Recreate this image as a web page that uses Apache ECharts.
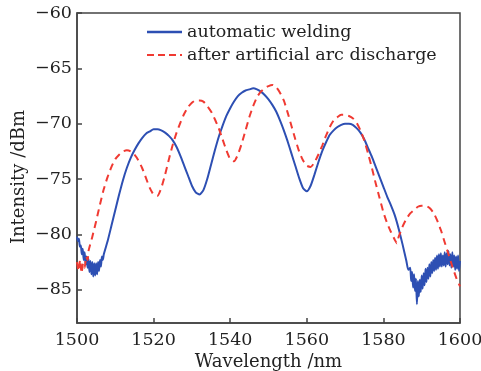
<!DOCTYPE html>
<html>
<head>
<meta charset="utf-8">
<script src="https://cdn.jsdelivr.net/npm/echarts@6/dist/echarts.min.js"></script>
<style>
  html, body { margin: 0; padding: 0; background: #fff; }
  #chart { width: 481px; height: 371px; }
</style>
</head>
<body>
<div id="chart"></div>
<script>
// wavelength (nm) / intensity (dBm)
var seriesNames = ['automatic welding', 'after artificial arc discharge']
var yTicks = [-85, -80, -75, -70, -65, -60]

var weldX = [1500, 1500.25, 1500.5, 1500.75, 1501, 1501.25, 1501.5, 1501.75, 1502, 1502.25, 1502.5, 1502.75,
  1503, 1503.25, 1503.5, 1503.75, 1504, 1504.25, 1504.5, 1504.75, 1505, 1505.25, 1505.5, 1505.75, 1506, 1506.25,
  1506.5, 1506.75, 1507, 1508, 1509, 1510, 1511, 1512, 1513, 1514, 1515, 1516, 1517, 1518, 1519, 1520, 1521, 1522,
  1523, 1524, 1525, 1526, 1527, 1528, 1529, 1530, 1531, 1532, 1533, 1534, 1535, 1536, 1537, 1538, 1539, 1540, 1541,
  1542, 1543, 1544, 1545, 1546, 1547, 1548, 1549, 1550, 1551, 1552, 1553, 1554, 1555, 1556, 1557, 1558, 1559, 1560,
  1561, 1562, 1563, 1564, 1565, 1566, 1567, 1568, 1569, 1570, 1571, 1572, 1573, 1574, 1575, 1576, 1577, 1578, 1579,
  1580, 1581, 1582, 1583, 1584, 1585, 1586, 1586.5,
  1587, 1587.25, 1587.5, 1587.75, 1588, 1588.25, 1588.5, 1588.75, 1589, 1589.25, 1589.5, 1589.75,
  1590, 1590.25, 1590.5, 1590.75, 1591, 1591.25, 1591.5, 1591.75, 1592, 1592.25, 1592.5, 1592.75,
  1593, 1593.25, 1593.5, 1593.75, 1594, 1594.25, 1594.5, 1594.75, 1595, 1595.25, 1595.5, 1595.75,
  1596, 1596.25, 1596.5, 1596.75, 1597, 1597.25, 1597.5, 1597.75, 1598, 1598.25, 1598.5, 1598.75,
  1599, 1599.25, 1599.5, 1599.75, 1600]
var weldY = [-80.2, -80.6, -80.4, -81.1, -81.0, -81.8, -81.3, -82.3, -81.6, -82.7, -82.0, -83.0,
  -82.2, -83.4, -82.4, -83.6, -82.5, -83.8, -82.6, -83.7, -82.6, -83.6, -82.5, -83.3, -82.3, -82.9,
  -82.0, -82.3, -81.8, -80.6, -79.2, -77.8, -76.4, -75.1, -74.0, -73.1, -72.4, -71.8, -71.3, -70.9, -70.7, -70.5, -70.5, -70.6,
  -70.8, -71.1, -71.5, -72.1, -72.9, -73.8, -74.7, -75.6, -76.2, -76.4, -76.0, -75.0, -73.7, -72.4, -71.2, -70.2, -69.3, -68.6, -68.0,
  -67.5, -67.2, -67.0, -66.9, -66.8, -66.9, -67.1, -67.4, -67.8, -68.3, -68.9, -69.7, -70.6, -71.6, -72.7, -73.8, -74.9, -75.8, -76.1,
  -75.6, -74.6, -73.5, -72.5, -71.7, -71.0, -70.6, -70.3, -70.1, -70.0, -70.0, -70.1, -70.4, -70.8, -71.4, -72.2, -73.0, -73.9, -74.8,
  -75.7, -76.6, -77.4, -78.3, -79.5, -80.9, -82.4, -83.2,
  -83.0, -84.2, -83.4, -84.8, -83.6, -85.1, -84.0, -86.3, -84.2, -85.6, -84.1, -85.2,
  -83.7, -84.9, -83.5, -84.6, -83.1, -84.3, -83.0, -84.0, -82.7, -83.8, -82.5, -83.5,
  -82.3, -83.3, -82.1, -83.2, -81.9, -83.1, -81.8, -82.9, -81.7, -82.9, -81.9, -82.8,
  -81.6, -82.9, -81.7, -82.7, -81.5, -82.8, -81.8, -83.0, -81.6, -82.9, -81.9, -83.2,
  -82.0, -83.1, -81.9, -83.3, -82.4]

var arcX = [1500, 1500.4, 1500.8, 1501.2, 1501.6, 1502, 1502.4, 1502.8, 1503, 1504, 1505, 1506, 1507, 1508, 1509, 1510,
  1511, 1512, 1513, 1514, 1515, 1516, 1517, 1518, 1519, 1520, 1521, 1522, 1523, 1524, 1525, 1526, 1527, 1528, 1529,
  1530, 1531, 1532, 1533, 1534, 1535, 1536, 1537, 1538, 1539, 1540, 1541, 1542, 1543, 1544, 1545, 1546, 1547, 1548,
  1549, 1550, 1551, 1552, 1553, 1554, 1555, 1556, 1557, 1558, 1559, 1560, 1561, 1562, 1563, 1564, 1565, 1566, 1567,
  1568, 1569, 1570, 1571, 1572, 1573, 1574, 1575, 1576, 1577, 1578, 1579, 1580, 1581, 1582, 1583, 1583.5, 1584, 1585,
  1586, 1587, 1588, 1589, 1590, 1591, 1592, 1593, 1594, 1595, 1596, 1597, 1598, 1599, 1600]
var arcY = [-82.5, -83.3, -82.3, -83.5, -82.6, -83.0, -82.0, -82.3, -81.5, -80.2, -78.8, -77.3, -75.9, -74.8, -73.9, -73.2,
  -72.8, -72.5, -72.4, -72.5, -72.8, -73.3, -74.0, -74.9, -75.8, -76.4, -76.5, -75.8, -74.6, -73.2, -71.9, -70.8, -69.9, -69.1, -68.5,
  -68.1, -67.9, -67.9, -68.0, -68.4, -68.9, -69.6, -70.4, -71.4, -72.4, -73.2, -73.4, -72.8, -71.8, -70.6, -69.4, -68.4, -67.6, -67.1,
  -66.8, -66.6, -66.5, -66.7, -67.2, -67.9, -69.0, -70.2, -71.4, -72.5, -73.3, -73.8, -73.9, -73.5, -72.8, -72.0, -71.1, -70.3, -69.7,
  -69.4, -69.2, -69.2, -69.3, -69.5, -69.9, -70.6, -71.5, -72.7, -74.0, -75.4, -76.7, -78.0, -79.0, -79.8, -80.5, -80.8, -80.2, -79.3,
  -78.6, -78.1, -77.8, -77.5, -77.4, -77.4, -77.6, -78.0, -78.7, -79.6, -80.7, -81.8, -82.9, -83.9, -84.7]

function pairs(xs, ys) {
  return xs.map(function (x, i) { return [x, ys[i]] })
}

var font = 'DejaVu Serif'
var ink = '#222'
var frame = '#444'
var blue = '#2d4fb3'
var red = '#f03a32'

var chart = echarts.init(document.getElementById('chart'))
chart.setOption({
  animation: false,
  grid: {
    left: 77, right: 21, top: 13, bottom: 48,
    outerBoundsMode: 'none',
    show: true, borderColor: frame, borderWidth: 1.5
  },
  legend: {
    orient: 'vertical',
    left: 147, top: 23,
    padding: 0,
    itemWidth: 35, itemHeight: 2.5, itemGap: 5,
    textStyle: { fontFamily: font, fontSize: 17.5, color: ink },
    data: [
      { name: seriesNames[0], icon: 'rect' },
      { name: seriesNames[1], icon: 'path://M0,0h7v2h-7z M11,0h7v2h-7z M22,0h7v2h-7z M33,0h2v2h-2z' }
    ]
  },
  xAxis: {
    type: 'value',
    min: 1500, max: 1600, interval: 20,
    name: 'Wavelength /nm',
    nameLocation: 'middle', nameGap: 30,
    nameMoveOverlap: false,
    nameTextStyle: { fontFamily: font, fontSize: 18, color: ink },
    axisLine: { lineStyle: { color: frame, width: 1.5 } },
    axisTick: { inside: true, length: 5, lineStyle: { color: frame, width: 1.5 } },
    axisLabel: {
      fontFamily: font, fontSize: 17.5, color: ink, margin: 8,
      formatter: function (v) { return String(v) }
    },
    splitLine: { show: false }
  },
  yAxis: {
    type: 'value',
    min: -88, max: -60,
    name: 'Intensity /dBm',
    nameLocation: 'middle', nameGap: 49,
    nameMoveOverlap: false,
    nameTextStyle: { fontFamily: font, fontSize: 18, color: ink, padding: [0, 18, 0, 0] },
    axisLine: { show: true, lineStyle: { color: frame, width: 1.5 } },
    axisTick: { inside: true, length: 5, customValues: yTicks, lineStyle: { color: frame, width: 1.5 } },
    axisLabel: {
      fontFamily: font, fontSize: 17.5, color: ink, margin: 5, customValues: yTicks,
      formatter: function (v) { return String(v).replace('-', '\u2212') }
    },
    splitLine: { show: false }
  },
  series: [
    {
      name: seriesNames[0],
      type: 'line',
      showSymbol: false, symbol: 'none',
      smooth: 0.2,
      lineStyle: { color: blue, width: 2 },
      itemStyle: { color: blue },
      data: pairs(weldX, weldY)
    },
    {
      name: seriesNames[1],
      type: 'line',
      showSymbol: false, symbol: 'none',
      smooth: 0.2,
      lineStyle: { color: red, width: 2, type: [7, 5] },
      itemStyle: { color: red },
      data: pairs(arcX, arcY)
    }
  ]
})
</script>
</body>
</html>
